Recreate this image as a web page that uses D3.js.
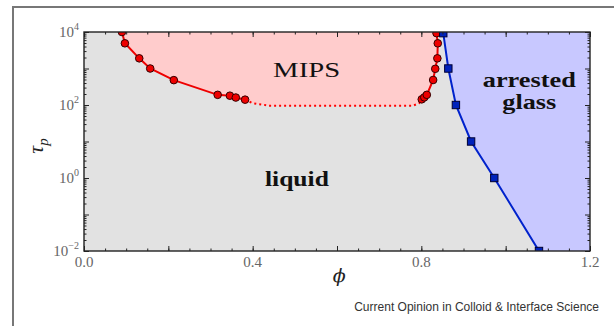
<!DOCTYPE html>
<html lang="en">
<head>
  <meta charset="UTF-8">
  <title>Active phase diagram</title>
  <script src="https://d3js.org/d3.v7.min.js"></script>
  <style>
    body { margin: 0; background: #fff; }
    svg { display: block; }
    .tick-label { font-family: 'Liberation Serif', serif; font-size: 15px; fill: #666; }
    .region { font-family: 'Liberation Serif', serif; font-size: 21px; fill: #111; }
    .source { font-family: 'Liberation Sans', Arial, sans-serif; font-size: 12px; fill: #333; }
  </style>
</head>
<body>
  <script>
    // values
    var phiTicks = [0.0, 0.4, 0.8, 1.2];
    var tauTicks = [1e-2, 1e0, 1e2, 1e4];

    // MIPS binodal (red circles)
    var mipsLeftPhi = [0.090, 0.097, 0.131, 0.157, 0.213, 0.317, 0.346, 0.360, 0.382];
    var mipsLeftTau = [10000, 4900, 1900, 1000, 480, 190, 180, 160, 140];
    var mipsRightPhi = [0.801, 0.807, 0.813, 0.828, 0.833, 0.838, 0.839, 0.836];
    var mipsRightTau = [143, 162, 190, 485, 980, 1900, 4900, 9300];
    // dotted lower boundary of MIPS
    var dottedPhi = [0.382, 0.400, 0.440, 0.780, 0.795, 0.801];
    var dottedTau = [140, 112, 96, 96, 112, 143];

    // glass line (blue squares)
    var glassPhi = [0.852, 0.864, 0.882, 0.918, 0.973, 1.079];
    var glassTau = [9300, 1000, 100, 10, 1, 0.01];

    var margin = { top: 32, right: 24, bottom: 75, left: 84 };
    var W = 614, H = 326;
    var width = W - margin.left - margin.right,
      height = H - margin.top - margin.bottom;

    var svg = d3.select("body").append("svg")
      .attr("width", W)
      .attr("height", H);

    // outer frame
    svg.append("path")
      .attr("d", "M13," + H + "V7H" + W)
      .attr("fill", "none")
      .attr("stroke", "#777")
      .attr("stroke-width", 2);

    var g = svg.append("g")
      .attr("transform", "translate(" + margin.left + "," + margin.top + ")");

    var x = d3.scaleLinear().domain([0, 1.2]).range([0, width]);
    var y = d3.scaleLog().domain([1e-2, 1e4]).range([height, 0]);

    function zip(a, b) { return a.map(function (v, i) { return [v, b[i]]; }); }
    var left = zip(mipsLeftPhi, mipsLeftTau),
      right = zip(mipsRightPhi, mipsRightTau),
      dotted = zip(dottedPhi, dottedTau),
      glass = zip(glassPhi, glassTau);

    var line = d3.line()
      .x(function (d) { return x(d[0]); })
      .y(function (d) { return y(d[1]); });

    g.append("clipPath").attr("id", "clip")
      .append("rect").attr("width", width).attr("height", height);

    var plot = g.append("g").attr("clip-path", "url(#clip)");

    // liquid background
    plot.append("rect")
      .attr("width", width).attr("height", height)
      .attr("fill", "#e2e2e2");

    // MIPS region
    var mipsPoly = [[left[0][0], 1e4]].concat(left, dotted.slice(1, -1), right, [[right[right.length - 1][0], 1e4]]);
    plot.append("path")
      .attr("d", line(mipsPoly) + "Z")
      .attr("fill", "#ffcccc");

    // glass region
    var glassPoly = [[glass[0][0], 1e4]].concat(glass, [[1.2, 1e-2], [1.2, 1e4]]);
    plot.append("path")
      .attr("d", line(glassPoly) + "Z")
      .attr("fill", "#c8c8ff");

    // lines
    plot.append("path").datum(dotted)
      .attr("d", line)
      .attr("fill", "none")
      .attr("stroke", "#ff0000")
      .attr("stroke-width", 2)
      .attr("stroke-dasharray", "2,3");

    [left, right].forEach(function (branch) {
      plot.append("path").datum(branch)
        .attr("d", line)
        .attr("fill", "none")
        .attr("stroke", "#ee0000")
        .attr("stroke-width", 2);
    });

    plot.append("path").datum(glass)
      .attr("d", line)
      .attr("fill", "none")
      .attr("stroke", "#0022cc")
      .attr("stroke-width", 2);

    // markers
    plot.selectAll(".red")
      .data(left.concat(right))
      .enter().append("circle")
      .attr("class", "red")
      .attr("cx", function (d) { return x(d[0]); })
      .attr("cy", function (d) { return y(d[1]); })
      .attr("r", 3.8)
      .attr("fill", "#ee0000")
      .attr("stroke", "#330000")
      .attr("stroke-width", 1);

    plot.selectAll(".blue")
      .data(glass)
      .enter().append("rect")
      .attr("class", "blue")
      .attr("x", function (d) { return x(d[0]) - 3.7; })
      .attr("y", function (d) { return y(d[1]) - 3.7; })
      .attr("width", 7.4).attr("height", 7.4)
      .attr("fill", "#0022bb")
      .attr("stroke", "#000033")
      .attr("stroke-width", 1);

    // ticks (inward on all four sides)
    var xMajor = d3.range(0, 1.2001, 0.2),
      xMinor = d3.range(0, 1.2001, 0.05);
    var yMajor = d3.range(-2, 5).map(function (e) { return Math.pow(10, e); }),
      yMinor = [];
    d3.range(-2, 4).forEach(function (e) {
      for (var k = 2; k < 10; k++) yMinor.push(k * Math.pow(10, e));
    });

    function tickAxis(axis, vals, size, tr) {
      var a = g.append("g")
        .attr("transform", tr)
        .call(axis.tickValues(vals).tickSize(size).tickSizeOuter(0).tickFormat(""));
      a.select(".domain").remove();
      a.selectAll("line").attr("stroke", "#222");
    }
    tickAxis(d3.axisBottom(x), xMajor, -5, "translate(0," + height + ")");
    tickAxis(d3.axisBottom(x), xMinor, -2.5, "translate(0," + height + ")");
    tickAxis(d3.axisTop(x), xMajor, -5, "translate(0,0)");
    tickAxis(d3.axisTop(x), xMinor, -2.5, "translate(0,0)");
    tickAxis(d3.axisLeft(y), yMajor, -5, "translate(0,0)");
    tickAxis(d3.axisLeft(y), yMinor, -2.5, "translate(0,0)");
    tickAxis(d3.axisRight(y), yMajor, -5, "translate(" + width + ",0)");
    tickAxis(d3.axisRight(y), yMinor, -2.5, "translate(" + width + ",0)");

    // frame of the plot
    g.append("rect")
      .attr("width", width).attr("height", height)
      .attr("fill", "none")
      .attr("stroke", "#222")
      .attr("stroke-width", 1.4);

    // tick labels
    g.selectAll(".xlab")
      .data(phiTicks)
      .enter().append("text")
      .attr("class", "tick-label")
      .attr("x", function (d) { return x(d); })
      .attr("y", height + 16)
      .attr("text-anchor", "middle")
      .text(function (d) { return d.toFixed(1); });

    var ylab = g.selectAll(".ylab")
      .data(tauTicks)
      .enter().append("text")
      .attr("class", "tick-label")
      .attr("x", -5)
      .attr("y", function (d) { return y(d) + 5; })
      .attr("text-anchor", "end");
    ylab.append("tspan").text("10");
    ylab.append("tspan")
      .attr("dy", -7)
      .attr("font-size", 10)
      .text(function (d) { return String(Math.round(Math.log10(d))).replace("-", "\u2212"); });

    // axis titles
    svg.append("text")
      .attr("transform", "translate(43,146)rotate(-90)")
      .attr("text-anchor", "middle")
      .attr("font-family", "'Liberation Serif', serif")
      .attr("font-style", "italic")
      .attr("font-size", 22)
      .attr("fill", "#222")
      .call(function (t) {
        t.append("tspan").text("\u03c4");
        t.append("tspan").attr("font-size", 15).attr("dy", 5).text("p");
      });

    svg.append("text")
      .attr("x", margin.left + x(0.605))
      .attr("y", 282)
      .attr("text-anchor", "middle")
      .attr("font-family", "'DejaVu Serif', serif")
      .attr("font-style", "italic")
      .attr("font-size", 19)
      .attr("fill", "#222")
      .text("\u03d5");

    // region labels
    var regions = [
      { t: "MIPS", phi: 0.528, tau: Math.pow(10, 2.775), w: 67, b: "normal" },
      { t: "liquid", phi: 0.505, tau: Math.pow(10, -0.21), w: 64, b: "bold" },
      { t: "arrested", phi: 1.056, tau: Math.pow(10, 2.485), w: 93, b: "bold" },
      { t: "glass", phi: 1.056, tau: Math.pow(10, 1.89), w: 54, b: "bold" }
    ];
    g.selectAll(".region")
      .data(regions)
      .enter().append("text")
      .attr("class", "region")
      .attr("x", function (d) { return x(d.phi); })
      .attr("y", function (d) { return y(d.tau); })
      .attr("text-anchor", "middle")
      .attr("font-weight", function (d) { return d.b; })
      .attr("textLength", function (d) { return d.w; })
      .attr("lengthAdjust", "spacingAndGlyphs")
      .text(function (d) { return d.t; });

    svg.append("text")
      .attr("class", "source")
      .attr("x", 599)
      .attr("y", 311)
      .attr("text-anchor", "end")
      .text("Current Opinion in Colloid & Interface Science");
  </script>
</body>
</html>
